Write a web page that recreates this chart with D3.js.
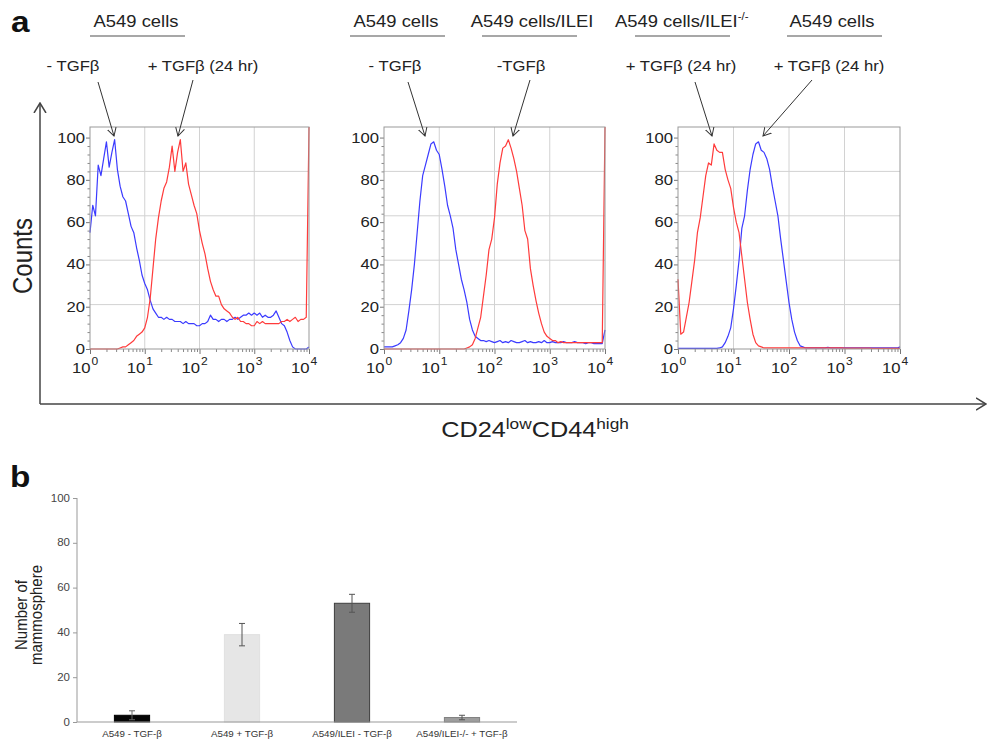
<!DOCTYPE html>
<html>
<head>
<meta charset="utf-8">
<script src="https://cdn.jsdelivr.net/npm/d3@7"></script>
<style>
  html, body { margin: 0; padding: 0; background: #fff; }
  svg { display: block; }
</style>
</head>
<body>
<svg id="chart" width="991" height="740"></svg>
<script>
// ---------------- DATA ----------------
// flow-cytometry channel grid: log10 intensity from 10^0 to 10^4, step 0.05 decade
const channelLog = d3.range(81).map(i => i / 20);
const yTicks = [0, 20, 40, 60, 80, 100];
const xTickExps = [0, 1, 2, 3, 4];

// Panel 1: A549 cells  -TGFβ (blue)  vs  +TGFβ 24 hr (red)
const p1Blue = [
  55, 68, 63, 87, 82, 90, 98, 86, 93, 99,
  85, 77, 72, 70, 64, 58, 55, 48, 42, 35,
  31, 28, 23, 19, 17, 15, 15, 14, 15, 14,
  14, 13, 13, 13, 12, 13, 12, 12, 12, 11,
  11, 12, 12, 13, 16, 14, 14, 13, 14, 14,
  13, 14, 14, 15, 14, 15, 16, 16, 17, 16,
  17, 16, 17, 15, 16, 15, 15, 16, 18, 15,
  12, 11, 8, 4, 1, 0, 0, 0, 0, 0,
  1];
const p1Red = [
  0, 0, 0, 0, 0, 0, 0, 0, 0, 0,
  0, 0.5, 1, 1, 2, 3, 4, 6, 7, 8,
  10, 15, 24, 38, 52, 62, 70, 76, 79, 86,
  96, 84, 93, 99, 84, 88, 78, 73, 68, 64,
  56, 50, 45, 38, 32, 28, 25, 25, 21, 19,
  18, 17, 15, 14, 15, 13, 13, 12, 12, 11,
  11, 13, 12, 13, 12, 12, 12, 12, 12, 12,
  13, 13, 14, 13, 14, 15, 13, 14, 14, 15,
  105];

// Panel 2: A549 cells -TGFβ (blue) vs A549 cells/ILEI -TGFβ (red)
const p2Blue = [
  1, 1, 1, 1, 1.5, 2, 3, 5, 9, 18,
  28, 40, 55, 70, 82, 87, 92, 97, 98, 94,
  92, 85, 77, 68, 63, 57, 47, 40, 33, 28,
  22, 14, 9, 6, 5, 4, 4, 3.5, 4, 3.5,
  3, 3.5, 4, 3, 3.5, 3, 4, 3.5, 3, 3,
  3.5, 4, 3, 3.5, 3, 3, 3.5, 3, 4, 3,
  3, 3.5, 3, 3, 3, 3.5, 3, 3, 3, 3.5,
  3, 3, 3, 2.5, 3, 3, 2.5, 2.5, 2.5, 2.5,
  9];
const p2Red = [
  0, 0, 0, 0, 0, 0, 0, 0, 0, 0,
  0, 0, 0, 0, 0, 0, 0, 0, 0, 0,
  0, 0, 0, 0, 0, 0, 0, 0, 0, 0,
  0.5, 1, 2, 5, 10, 15, 25, 35, 47, 52,
  62, 78, 88, 95, 96, 99, 95, 90, 84, 76,
  68, 56, 52, 38, 30, 23, 17, 12, 8, 6,
  5, 4, 4, 3, 3.5, 3, 3, 3, 3, 3,
  3, 3, 3, 3, 3, 3, 3, 3, 3, 3,
  105];

// Panel 3: A549 cells/ILEI-/- +TGFβ (red) vs A549 cells +TGFβ (blue)
const p3Red = [
  33, 7, 8, 15, 22, 32, 42, 55, 62, 72,
  82, 88, 87, 97, 94, 93, 93, 85, 80, 76,
  67, 60, 55, 44, 33, 22, 14, 7, 3, 1.5,
  1, 0.5, 0.5, 0.5, 0.5, 0.5, 0.5, 0.5, 0.5, 0.5,
  0.5, 0.5, 0.5, 0.5, 0.5, 0.5, 0.5, 0.5, 0.5, 0.5,
  0.5, 0.5, 0.5, 0.5, 0.5, 0.5, 0.5, 0.5, 0.5, 0.5,
  0.4, 0.4, 0.4, 0.4, 0.4, 0.4, 0.4, 0.4, 0.4, 0.4,
  0.3, 0.3, 0.3, 0.3, 0.3, 0.3, 0.3, 0.3, 0.3, 0.3,
  0.3];
const p3Blue = [
  0.3, 0.3, 0.3, 0.3, 0.3, 0.3, 0.3, 0.3, 0.3, 0.3,
  0.3, 0.3, 0.3, 0.3, 0.3, 0.5, 1, 3, 6, 10,
  19, 30, 42, 57, 63, 75, 85, 92, 97, 98,
  94, 93, 90, 85, 77, 70, 63, 52, 42, 32,
  22, 14, 8, 4, 1.5, 1, 0.5, 0.5, 0.5, 0.5,
  0.5, 0.5, 0.5, 0.5, 0.8, 0.5, 0.5, 0.5, 0.5, 0.5,
  0.5, 0.5, 0.5, 0.5, 0.5, 0.5, 0.5, 0.5, 0.5, 0.5,
  0.5, 0.5, 0.5, 0.5, 0.5, 0.5, 0.5, 0.5, 0.5, 0.5,
  1];

// Panel b: mammosphere counts
const barCategories = ["A549 - TGF-β", "A549 + TGF-β", "A549/ILEI - TGF-β", "A549/ILEI-/- + TGF-β"];
const barValues = [3, 39, 53, 2];
const barErrors = [2, 5, 4, 1];
const barTicks = [0, 20, 40, 60, 80, 100];

// ---------------- STYLE ----------------
const FONT = "'Liberation Sans', Arial, Helvetica, sans-serif";
const SX = 1.15;           // horizontal stretch of the original figure's lettering
const BLUE = "#3b3bff";
const RED = "#ff3b3b";
const barFill = ["#050505", "#e6e6e6", "#7a7a7a", "#9d9d9d"];
const barStroke = ["#000", "#e0e0e0", "#3e3e3e", "#808080"];

const svg = d3.select("#chart").attr("font-family", FONT);
svg.append("rect").attr("width", 991).attr("height", 740).attr("fill", "#fff");

const defs = svg.append("defs");
function openArrow(id, len, half, color, sw) {
  defs.append("marker")
    .attr("id", id).attr("markerUnits", "userSpaceOnUse")
    .attr("viewBox", `0 ${-half - 1} ${len + 1} ${2 * half + 2}`)
    .attr("refX", len).attr("refY", 0)
    .attr("markerWidth", len + 1).attr("markerHeight", 2 * half + 2)
    .attr("orient", "auto")
    .append("path")
    .attr("d", `M0,${-half} L${len},0 L0,${half}`)
    .attr("fill", "none").attr("stroke", color).attr("stroke-width", sw);
}
openArrow("arrSmall", 8, 4.5, "#333", 1);
openArrow("arrBig", 10, 6, "#444", 1.5);

function txt(g, x, y, s, o = {}) {
  const rot = o.rot ? ` rotate(${o.rot})` : "";
  return g.append("text")
    .attr("transform", `translate(${x},${y}) scale(${o.sx ?? SX},1)${rot}`)
    .attr("text-anchor", o.anchor || "middle")
    .attr("font-size", o.size || 14)
    .attr("font-weight", o.weight || "normal")
    .attr("fill", o.fill || "#222")
    .text(s);
}

// ---------------- PANEL a ----------------
const gA = svg.append("g");
txt(gA, 11, 32, "a", { size: 29, weight: "bold", anchor: "start", fill: "#111" });

// big axes
gA.append("line").attr("x1", 40).attr("y1", 404).attr("x2", 40).attr("y2", 103)
  .attr("stroke", "#444").attr("stroke-width", 1.5).attr("marker-end", "url(#arrBig)");
gA.append("line").attr("x1", 40).attr("y1", 404).attr("x2", 986).attr("y2", 404)
  .attr("stroke", "#444").attr("stroke-width", 1.5).attr("marker-end", "url(#arrBig)");
txt(gA, 32, 256, "Counts", { size: 24, rot: -90 });
const xt = txt(gA, 535, 437, "", { size: 22 });
xt.append("tspan").text("CD24");
xt.append("tspan").attr("font-size", 15).attr("dy", -8).text("low");
xt.append("tspan").attr("dy", 8).text("CD44");
xt.append("tspan").attr("font-size", 15).attr("dy", -8).text("high");

const PY0 = 127, PY1 = 349;
const panels = [
  { x0: 90, x1: 309, series: [{ v: p1Blue, c: BLUE }, { v: p1Red, c: RED }] },
  { x0: 384, x1: 605, series: [{ v: p2Blue, c: BLUE }, { v: p2Red, c: RED }] },
  { x0: 678, x1: 900, series: [{ v: p3Blue, c: BLUE }, { v: p3Red, c: RED }] }
];
const channels = channelLog.map(l => Math.pow(10, l));

panels.forEach((p, pi) => {
  const g = gA.append("g");
  const x = d3.scaleLog().domain([1, 1e4]).range([p.x0, p.x1]);
  const y = d3.scaleLinear().domain([0, 105]).range([PY1, PY0]);

  // grid
  [10, 100, 1000].forEach(v => g.append("line")
    .attr("x1", x(v)).attr("x2", x(v)).attr("y1", PY0).attr("y2", PY1)
    .attr("stroke", "#d2d2d2").attr("stroke-width", 1));
  [21, 42, 63, 84].forEach(v => g.append("line")
    .attr("x1", p.x0).attr("x2", p.x1).attr("y1", y(v)).attr("y2", y(v))
    .attr("stroke", "#d2d2d2").attr("stroke-width", 1));

  // y axis ticks
  g.append("g").attr("transform", `translate(${p.x0},0)`)
    .call(d3.axisLeft(y).tickValues(yTicks).tickSize(4).tickFormat(""))
    .call(a => a.select(".domain").remove())
    .call(a => a.selectAll("line").attr("stroke", "#777"));
  g.append("g").attr("transform", `translate(${p.x0},0)`)
    .call(d3.axisLeft(y).tickValues(d3.range(0, 101, 4).filter(v => v % 20)).tickSize(2.5).tickFormat(""))
    .call(a => a.select(".domain").remove())
    .call(a => a.selectAll("line").attr("stroke", "#888"));
  yTicks.forEach(v => txt(g, p.x0 - 5, y(v) + 5, String(v), { size: 14.5, anchor: "end" }));

  // x axis ticks (log)
  const minor = [];
  [1, 10, 100, 1000].forEach(d => { for (let k = 2; k <= 9; k++) minor.push(d * k); });
  g.append("g").attr("transform", `translate(0,${PY1})`)
    .call(d3.axisBottom(x).tickValues(minor).tickSize(3).tickFormat(""))
    .call(a => a.select(".domain").remove())
    .call(a => a.selectAll("line").attr("stroke", "#888"));
  g.append("g").attr("transform", `translate(0,${PY1})`)
    .call(d3.axisBottom(x).tickValues(xTickExps.map(e => Math.pow(10, e))).tickSize(5).tickFormat(""))
    .call(a => a.select(".domain").remove())
    .call(a => a.selectAll("line").attr("stroke", "#777"));
  xTickExps.forEach(e => {
    const xv = x(Math.pow(10, e));
    txt(g, xv + 0.5, 373, "10", { size: 14.5, anchor: "end" });
    txt(g, xv + 1.5, 365, String(e), { size: 10.5, anchor: "start" });
  });

  // histograms
  const line = d3.line().x((d, i) => x(channels[i])).y(d => y(d));
  p.series.forEach(s => g.append("path").datum(s.v)
    .attr("d", line).attr("fill", "none").attr("stroke", s.c)
    .attr("stroke-width", 1.2).attr("stroke-linejoin", "round"));

  // frame
  g.append("rect").attr("x", p.x0).attr("y", PY0)
    .attr("width", p.x1 - p.x0).attr("height", PY1 - PY0)
    .attr("fill", "none").attr("stroke", "#999").attr("stroke-width", 1);
});

// headers
const headers = [
  { t: "A549 cells", x: 136, u0: 90, u1: 185 },
  { t: "A549 cells", x: 396, u0: 350, u1: 445 },
  { t: "A549 cells/ILEI", x: 532, u0: 482, u1: 577 },
  { t: "A549 cells/ILEI", x: 615, u0: 635, u1: 730, sup: "-/-" },
  { t: "A549 cells", x: 832, u0: 787, u1: 882 }
];
headers.forEach(h => {
  const t = txt(gA, h.x, 27, "", { size: 16, anchor: h.sup ? "start" : "middle" });
  t.append("tspan").text(h.t);
  if (h.sup) t.append("tspan").attr("font-size", 10).attr("dy", -7).text(h.sup);
  gA.append("line").attr("x1", h.u0).attr("x2", h.u1).attr("y1", 36).attr("y2", 36)
    .attr("stroke", "#8a8a8a").attr("stroke-width", 1.5);
});
const conds = [
  { t: "- TGFβ", x: 73, a: [98, 82, 114, 136] },
  { t: "+ TGFβ (24 hr)", x: 203, a: [193, 80, 178, 136] },
  { t: "- TGFβ", x: 395, a: [408, 82, 425, 136] },
  { t: "-TGFβ", x: 521, a: [530, 80, 513, 136] },
  { t: "+ TGFβ (24 hr)", x: 681, a: [695, 82, 712, 136] },
  { t: "+ TGFβ (24 hr)", x: 829, a: [812, 80, 763, 136] }
];
conds.forEach(c => {
  txt(gA, c.x, 71, c.t, { size: 14.5 });
  gA.append("line").attr("x1", c.a[0]).attr("y1", c.a[1]).attr("x2", c.a[2]).attr("y2", c.a[3])
    .attr("stroke", "#333").attr("stroke-width", 1).attr("marker-end", "url(#arrSmall)");
});

// ---------------- PANEL b ----------------
const gB = svg.append("g");
txt(gB, 10, 487, "b", { size: 29, weight: "bold", anchor: "start", fill: "#111" });

const bx = d3.scaleBand().domain(barCategories).range([77, 517]).paddingInner(0.68).paddingOuter(0.34);
const by = d3.scaleLinear().domain([0, 100]).range([722, 498]);

gB.append("g").attr("transform", "translate(77,0)")
  .call(d3.axisLeft(by).tickValues(barTicks).tickSize(4).tickFormat(""))
  .call(a => a.select(".domain").attr("stroke", "#999").attr("d", `M0,${by(0)}V${by(100)}`))
  .call(a => a.selectAll(".tick line").attr("stroke", "#999"));
barTicks.forEach(v => txt(gB, 70, by(v) + 3.5, String(v), { size: 10, anchor: "end", fill: "#444" }));

gB.selectAll("rect.bar").data(barValues).join("rect").attr("class", "bar")
  .attr("x", (d, i) => bx(barCategories[i]))
  .attr("y", d => by(d))
  .attr("width", bx.bandwidth())
  .attr("height", d => by(0) - by(d))
  .attr("fill", (d, i) => barFill[i])
  .attr("stroke", (d, i) => barStroke[i]).attr("stroke-width", 1);

barValues.forEach((v, i) => {
  const cx = bx(barCategories[i]) + bx.bandwidth() / 2;
  const lo = by(v - barErrors[i]), hi = by(v + barErrors[i]);
  const col = i === 0 ? "#666" : "#555";
  gB.append("line").attr("x1", cx).attr("x2", cx).attr("y1", lo).attr("y2", hi).attr("stroke", col).attr("stroke-width", 1);
  [lo, hi].forEach(yy => gB.append("line").attr("x1", cx - 3).attr("x2", cx + 3).attr("y1", yy).attr("y2", yy).attr("stroke", col).attr("stroke-width", 1));
});

gB.append("line").attr("x1", 77).attr("x2", 517).attr("y1", by(0)).attr("y2", by(0))
  .attr("stroke", "#999").attr("stroke-width", 1);

barCategories.forEach(c => txt(gB, bx(c) + bx.bandwidth() / 2, 737, c, { size: 8.5, fill: "#333" }));

txt(gB, 27, 615, "Number of", { size: 15, rot: -90 });
txt(gB, 42, 615, "mammosphere", { size: 15, rot: -90 });
</script>
</body>
</html>
